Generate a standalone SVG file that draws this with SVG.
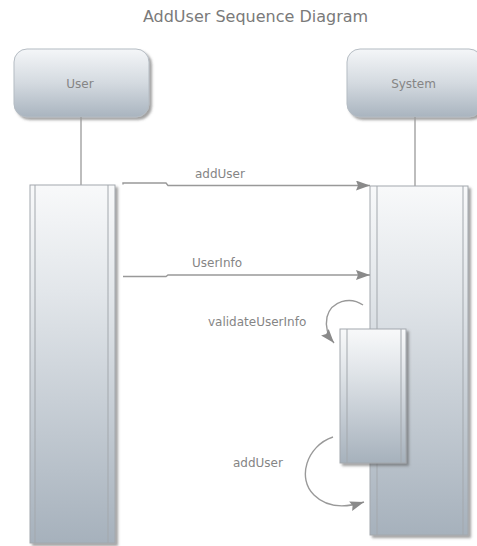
<svg xmlns="http://www.w3.org/2000/svg" width="477" height="546" viewBox="0 0 477 546">
<defs>
<style>
.title{font-family:"DejaVu Sans",Verdana,sans-serif;font-size:16px;fill:#7a7a7a}
.lbl{font-family:"DejaVu Sans",Verdana,sans-serif;font-size:12px;fill:#858585}
.box{fill:url(#gBox);stroke:#b5bcc3;stroke-width:1;filter:url(#sh)}
.act{fill:url(#gAct);stroke:#a3a8ad;stroke-width:1;filter:url(#sh)}
.inner{stroke:#a3a8ad;stroke-width:1;fill:none}
.life{stroke:#9a9a9a;stroke-width:1.3;fill:none}
.msg{stroke:#999;stroke-width:1.4;fill:none}
</style>
<linearGradient id="gBox" x1="0" y1="0" x2="0" y2="1">
<stop offset="0" stop-color="#f4f6f8"/>
<stop offset="0.5" stop-color="#d4dae0"/>
<stop offset="1" stop-color="#a9b4bf"/>
</linearGradient>
<linearGradient id="gAct" x1="0" y1="0" x2="0" y2="1">
<stop offset="0" stop-color="#f8f9fa"/>
<stop offset="0.3" stop-color="#e2e6ea"/>
<stop offset="1" stop-color="#a6b1bc"/>
</linearGradient>
<filter id="sh" x="-10%" y="-10%" width="130%" height="130%">
<feDropShadow dx="2.5" dy="2.5" stdDeviation="1.2" flood-color="#555" flood-opacity="0.55"/>
</filter>
<marker id="ah" markerUnits="userSpaceOnUse" markerWidth="16" markerHeight="12" refX="14" refY="5" orient="auto">
<path d="M0,0 L14,5 L0,10 L2,5 Z" fill="#8a8a8a"/>
</marker>
</defs>
<rect width="477" height="546" fill="#fff"/>
<text class="title" x="255.5" y="21.5" text-anchor="middle">AddUser Sequence Diagram</text>

<g id="user">
<rect class="box" x="14" y="49" width="135" height="68" rx="13"/>
<text class="lbl" x="80" y="88" text-anchor="middle">User</text>
<line class="life" x1="81" y1="117" x2="81" y2="185"/>
<rect class="act" x="30" y="185" width="85" height="358"/>
<line class="inner" x1="35" y1="185" x2="35" y2="543"/>
<line class="inner" x1="108" y1="185" x2="108" y2="543"/>
</g>

<g id="system">
<rect class="box" x="347" y="49" width="135" height="68" rx="13"/>
<text class="lbl" x="413.5" y="88" text-anchor="middle">System</text>
<line class="life" x1="415" y1="117" x2="415" y2="186"/>
<rect class="act" x="370" y="186" width="98" height="349"/>
<line class="inner" x1="377" y1="186" x2="377" y2="535"/>
<line class="inner" x1="463" y1="186" x2="463" y2="535"/>
</g>

<g id="system-activation">
<rect class="act" x="340" y="329" width="66" height="134"/>
<line class="inner" x1="347" y1="329" x2="347" y2="463"/>
<line class="inner" x1="401" y1="329" x2="401" y2="463"/>
</g>

<g id="connectors">
<path class="msg" d="M123,184.5 L123,183 L166,183 L168,185.5 L370,185.5" marker-end="url(#ah)"/>
<text class="lbl" x="195" y="178">addUser</text>
<path class="msg" d="M123,276.5 L166,276.5 L168,275 L370,275" marker-end="url(#ah)"/>
<text class="lbl" x="192" y="267">UserInfo</text>
<path class="msg" d="M363,305 C350,296 331,301 327,317 C325,327 328,336 334,343" marker-end="url(#ah)"/>
<text class="lbl" x="208" y="326">validateUserInfo</text>
<path class="msg" d="M333,437 C306,446 297,479 314,495 C327,508 345,508 364,502" marker-end="url(#ah)"/>
<text class="lbl" x="233" y="467">addUser</text>
</g>
</svg>
